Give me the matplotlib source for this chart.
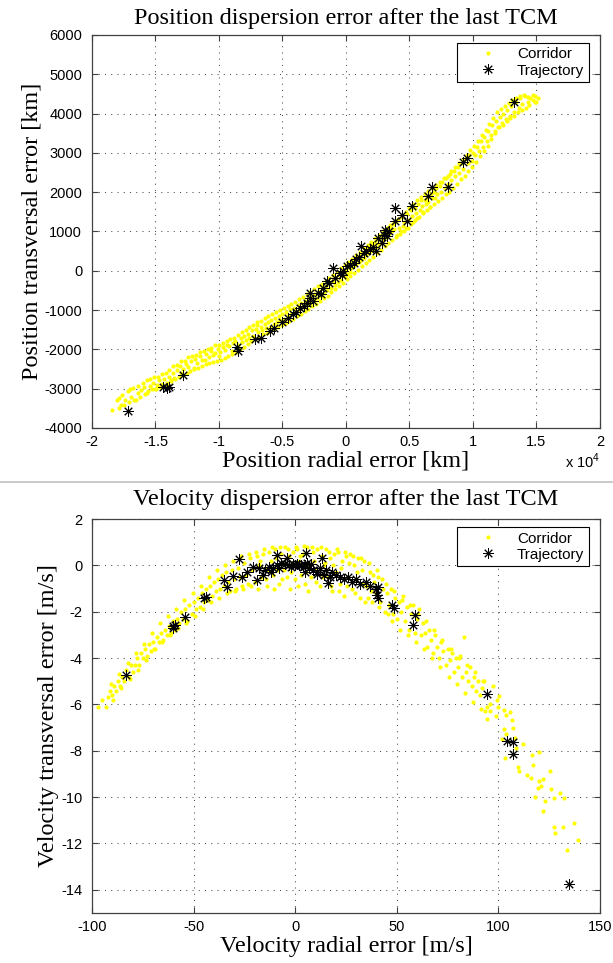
import numpy as np
import matplotlib
matplotlib.use("Agg")
import matplotlib.pyplot as plt
from matplotlib.lines import Line2D
from matplotlib.ticker import FuncFormatter, MultipleLocator

plt.rcParams['font.family'] = ['Liberation Sans', 'DejaVu Sans']
plt.rcParams['axes.unicode_minus'] = False
plt.rcParams['mathtext.fontset'] = 'custom'
plt.rcParams['mathtext.rm'] = 'Liberation Sans'

# --- position dispersion (radial km, transversal km) ---
pos_corridor = np.array([
    (-18400, -3550), (-17900, -3230), (-17700, -3420), (-17400, -3300), (-17000, -3020),
    (-16900, -3200), (-16500, -3290), (-16400, -3120), (-16100, -3030), (-15900, -2960),
    (-15700, -3100), (-15400, -2930), (-15200, -2850), (-15000, -3000), (-14900, -2900),
    (-14700, -2780), (-14500, -2880), (-14300, -2760), (-14100, -2850), (-13900, -2700),
    (-13800, -2790), (-13600, -2600), (-13500, -2720), (-13300, -2520), (-13100, -2420),
    (-13000, -2600), (-12800, -2500), (-12600, -2380), (-12400, -2450), (-12200, -2300),
    (-12000, -2480), (-11900, -2250), (-11700, -2350), (-11500, -2180), (-11300, -2280),
    (-11100, -2260), (-11000, -2120), (-10800, -2200), (-10600, -2050), (-10500, -2150),
    (-10300, -2090), (-10100, -1980), (-10000, -2180), (-9900, -2060), (-9700, -1950),
    (-9500, -2010), (-9400, -1880), (-9200, -1920), (-9000, -2050), (-8900, -1850),
    (-8700, -1780), (-8500, -1900), (-8300, -1700), (-8200, -1820), (-8000, -1650),
    (-7900, -1760), (-7700, -1600), (-7600, -1700), (-7400, -1520), (-7300, -1650),
    (-7100, -1480), (-7000, -1380), (-6900, -1560), (-6700, -1420), (-6600, -1500),
    (-6400, -1350), (-6300, -1450), (-6100, -1300), (-6000, -1420), (-5900, -1250),
    (-5700, -1350), (-5600, -1200), (-5400, -1300), (-5300, -1150), (-5200, -1260),
    (-5000, -1100), (-4900, -1220), (-4700, -1050), (-4600, -1150), (-4400, -980),
    (-4300, -1100), (-4100, -950), (-4000, -1060), (-3800, -880), (-3700, -990),
    (-3500, -820), (-3400, -930), (-3200, -760), (-3100, -870), (-2900, -700),
    (-2800, -820), (-2700, -640), (-2500, -750), (-2400, -580), (-2300, -690),
    (-2100, -520), (-2000, -630), (-1900, -450), (-1700, -560), (-1600, -380),
    (-1500, -490), (-1300, -320), (-1200, -430), (-1000, -250), (-900, -360),
    (-800, -180), (-600, -290), (-500, -120), (-400, -230), (-200, -40),
    (-100, -160), (0, 30), (100, -80), (200, 100), (300, -20),
    (400, 80), (500, 200), (600, 120), (700, 250), (800, 180),
    (900, 330), (1000, 220), (1100, 380), (1200, 280), (1300, 450),
    (1400, 330), (1500, 500), (1600, 400), (1700, 560), (1800, 450),
    (1900, 620), (2000, 500), (2100, 680), (2200, 560), (2300, 740),
    (2400, 600), (2500, 800), (2600, 680), (2700, 860), (2800, 720),
    (2900, 920), (3000, 800), (3100, 980), (3200, 870), (3300, 1050),
    (3400, 930), (3500, 1120), (3600, 1000), (3700, 1180), (3800, 1050),
    (3900, 1250), (4000, 900), (4100, 1300), (4200, 1100), (4300, 1000),
    (4400, 1380), (4500, 1150), (4600, 1250), (4700, 1080), (4800, 1450),
    (5000, 1300), (5100, 1550), (5200, 1400), (5300, 1250), (5400, 1600),
    (5500, 1480), (5600, 1350), (5700, 1700), (5800, 1550), (5900, 1800),
    (6000, 1650), (6100, 1500), (6200, 1800), (6300, 1700), (6400, 1850),
    (6500, 1750), (6600, 1620), (6700, 1950), (6800, 1850), (6900, 2000),
    (7000, 1850), (7100, 2100), (7200, 1950), (7400, 2150), (7500, 2000),
    (7600, 2250), (7800, 2100), (7900, 2350), (8000, 2200), (8200, 2450),
    (8300, 2300), (8500, 2550), (8600, 2400), (8800, 2650), (8900, 2500),
    (9100, 2750), (9200, 2600), (9400, 2850), (9600, 2730), (9700, 2950),
    (9900, 2800), (10000, 3000), (10200, 2950), (10300, 3150), (10500, 3050),
    (10600, 3300), (10800, 3150), (10900, 3400), (11100, 3300), (11200, 3550),
    (11400, 3450), (11500, 3700), (11700, 3550), (11800, 3800), (12000, 3650),
    (12100, 3900), (12300, 3750), (12400, 4000), (12600, 3850), (12700, 4100),
    (12900, 3950), (13000, 4200), (13200, 4050), (13400, 4300), (13600, 4150),
    (13700, 4400), (13900, 4250), (14100, 4450), (14300, 4300), (14500, 4400),
    (14700, 4350), (14900, 4450), (15000, 4300),
    # outer edges of the corridor
    (-18000, -3300), (-17850, -3500), (-17600, -3150), (-17450, -3420), (-17200, -3060),
    (-17050, -3330), (-16800, -2990), (-16650, -3290), (-16400, -2930), (-16250, -3200),
    (-16000, -2850), (-15850, -3130), (-15700, -2790), (-15550, -3070), (-15400, -2760),
    (-15250, -3020), (-15100, -2700), (-14950, -3010), (-14800, -2700), (-14650, -2950),
    (-14500, -2620), (-14350, -2930), (-14200, -2590), (-14050, -2900), (-13900, -2520),
    (-13750, -2810), (-13600, -2420), (-13450, -2760), (-13300, -2400), (-13150, -2700),
    (-13000, -2300), (-12850, -2640), (-12700, -2290), (-12550, -2600), (-12400, -2200),
    (-12250, -2560), (-12100, -2180), (-11950, -2500), (-11800, -2150), (-11650, -2470),
    (-11500, -2060), (-11350, -2430), (-11200, -2050), (-11050, -2380), (-10900, -1990),
    (-10750, -2350), (-10600, -1960), (-10450, -2330), (-10300, -1900), (-10150, -2300),
    (-10000, -1880), (-9850, -2260), (-9700, -1850), (-9550, -2210), (-9400, -1800),
    (-9250, -2170), (-9100, -1740), (-8950, -2130), (-8800, -1700), (-8650, -2070),
    (-8500, -1640), (-8350, -2000), (-8200, -1560), (-8050, -1930), (-7900, -1500),
    (-7750, -1860), (-7600, -1440), (-7450, -1800), (-7300, -1370), (-7150, -1730),
    (-7000, -1300), (-6850, -1680), (-6700, -1270), (-6550, -1620), (-6400, -1210),
    (-6250, -1580), (-6100, -1160), (-5950, -1540), (-5800, -1110), (-5650, -1480),
    (-5500, -1060), (-5350, -1430), (-5200, -1000), (-5050, -1390), (-4900, -960),
    (-4750, -1330), (-4600, -900), (-4450, -1270), (-4300, -840), (-4150, -1220),
    (-4000, -790), (-3850, -1160), (-3700, -720), (-3550, -1090), (-3400, -660),
    (-3250, -1030), (-3100, -600), (-2950, -970), (-2800, -530), (-2650, -900),
    (-2500, -470), (-2350, -840), (-2200, -400), (-2050, -770), (-1900, -330),
    (-1750, -700), (-1600, -260), (-1450, -630), (-1300, -180), (-1150, -550),
    (-1000, -100), (-850, -470), (-700, -20), (-550, -390), (-400, 60),
    (-250, -300), (-100, 140), (50, -220), (200, 230), (350, -140),
    (500, 310), (650, -60), (800, 400), (950, 30), (1100, 490),
    (1250, 110), (1400, 570), (1550, 190), (1700, 650), (1850, 280),
    (2000, 740), (2150, 360), (2300, 830), (2450, 450), (2600, 920),
    (2750, 530), (2900, 1000), (3050, 620), (3200, 1080), (3350, 700),
    (3500, 1160), (3650, 770), (3800, 1240), (3950, 850), (4100, 1320),
    (4250, 930), (4400, 1410), (4550, 1020), (4700, 1500), (4850, 1100),
    (5000, 1590), (5150, 1180), (5300, 1690), (5450, 1280), (5600, 1790),
    (5750, 1380), (5900, 1880), (6050, 1470), (6200, 1960), (6350, 1540),
    (6500, 2040), (6650, 1620), (6800, 2110), (6950, 1700), (7100, 2190),
    (7250, 1780), (7400, 2270), (7550, 1860), (7700, 2350), (7850, 1950),
    (8000, 2420), (8150, 2010), (8300, 2530), (8450, 2110), (8600, 2640),
    (8750, 2220), (8900, 2740), (9050, 2330), (9200, 2850), (9350, 2420),
    (9500, 2950), (9650, 2530), (9800, 3060), (9950, 2640), (10100, 3180),
    (10250, 2780), (10400, 3310), (10550, 2910), (10700, 3450), (10850, 3050),
    (11000, 3580), (11150, 3180), (11300, 3740), (11450, 3340), (11600, 3890),
    (11750, 3500), (11900, 4030), (12050, 3650), (12200, 4120), (12350, 3720),
    (12500, 4200), (12650, 3800), (12800, 4270), (12950, 3880), (13100, 4350),
    (13250, 3950), (13400, 4400), (13550, 4030), (13700, 4450), (13850, 4100),
    (14000, 4480), (14150, 4150), (14300, 4420), (14450, 4230), (14700, 4470),
    (14850, 4300), (15100, 4400),
])

pos_traj = np.array([
    (-17200, -3570), (-14400, -2970), (-14100, -2990), (-13900, -2950), (-12800, -2650),
    (-8600, -1930), (-8500, -2050), (-7200, -1740), (-6700, -1700), (-6000, -1530),
    (-5700, -1450), (-5000, -1300), (-4600, -1200), (-4200, -1100), (-3900, -1050),
    (-3600, -950), (-3300, -900), (-3100, -820), (-2800, -700), (-2600, -760),
    (-2200, -567), (-2800, -567), (-2000, -600), (-1800, -450), (-1500, -272),
    (-1300, -300), (-900, -178), (-1000, 69), (-500, -59), (-300, -100),
    (-200, -10), (50, 109), (300, 150), (600, 196), (800, 300),
    (1000, 350), (1200, 618), (1400, 450), (1600, 491), (1900, 550),
    (2100, 600), (2400, 491), (2500, 832), (2800, 700), (3000, 900),
    (3100, 1043), (3200, 873), (3400, 1000), (3900, 1272), (3900, 1595),
    (4400, 1410), (4800, 1272), (5200, 1654), (6500, 1890), (6750, 2130),
    (8000, 2130), (9200, 2780), (9500, 2868), (13200, 4300),
])

# --- velocity dispersion (radial m/s, transversal m/s) ---
vel_corridor = np.array([
    (-97, -6.1), (-93, -6.1), (-95, -5.8), (-92, -5.7), (-91, -5.4), (-90, -5.6),
    (-89, -5.2), (-88, -5.4), (-87, -5.0), (-86, -5.2), (-85, -4.8), (-84, -5.0),
    (-83, -4.5), (-82, -4.8), (-81, -4.3), (-80, -4.6), (-79, -4.3), (-78, -4.0),
    (-77, -4.3), (-76, -3.8), (-75, -4.0), (-74, -3.6), (-73, -3.9), (-72, -3.4),
    (-71, -3.7), (-70, -3.3), (-69, -3.6), (-68, -3.1), (-67, -3.3), (-66, -2.9),
    (-65, -3.2), (-64, -2.8), (-63, -3.0), (-62, -2.6), (-61, -2.9), (-60, -2.4),
    (-59, -2.8), (-58, -2.3), (-57, -2.5), (-56, -2.0), (-55, -2.3), (-54, -1.9),
    (-53, -2.4), (-52, -1.7), (-51, -2.1), (-50, -1.6), (-49, -1.9), (-48, -1.4),
    (-47, -1.8), (-46, -1.2), (-45, -1.6), (-44, -1.0), (-43, -1.5), (-42, -0.9),
    (-41, -1.3), (-40, -0.7), (-39, -1.1), (-38, -0.6), (-37, -1.0), (-36, -0.4),
    (-35, -0.9), (-34, -0.3), (-33, -0.7), (-32, -1.1), (-31, -0.2), (-30, -0.6),
    (-29, -1.0), (-28, -0.1), (-27, -0.5), (-26, -0.9), (-25, 0.1), (-24, -0.4),
    (-23, -0.8), (-22, 0.3), (-21, -0.2), (-20, -0.7), (-19, 0.4), (-18, 0.0),
    (-17, -0.5), (-16, 0.5), (-15, -0.1), (-14, -0.9), (-13, 0.6), (-12, 0.2),
    (-11, -0.4), (-10, 0.7), (-9, -0.2), (-8, -0.8), (-7, 0.5), (-6, 0.1),
    (-5, 0.8), (-4, -0.5), (-3, 0.4), (-2, -0.3), (-1, 0.6), (0, -0.6),
    (1, 0.7), (2, 0.2), (3, -0.4), (4, 0.5), (5, -0.8), (6, 0.8),
    (7, 0.0), (8, -0.5), (9, 0.6), (10, -0.2), (11, 0.7), (12, -0.9),
    (13, 0.4), (14, 0.0), (15, 0.7), (16, -0.5), (17, 0.3), (18, -1.1),
    (19, 0.5), (20, -0.3), (21, 0.6), (22, -0.8), (23, 0.2), (24, -1.3),
    (25, 0.4), (26, -0.5), (27, 0.5), (28, -1.0), (29, 0.0), (30, -0.6),
    (31, 0.3), (32, -1.4), (33, -0.2), (34, 0.2), (35, -0.9), (36, -1.4),
    (37, -0.3), (38, -1.6), (39, -0.7), (40, -1.2), (41, -0.5), (42, -1.6),
    (43, -1.0), (44, -2.0), (45, -1.2), (46, -1.7), (47, -1.0), (48, -2.1),
    (49, -1.4), (50, -2.3), (51, -1.6), (52, -2.0), (53, -1.3), (54, -2.4),
    (55, -1.8), (56, -2.8), (57, -2.1), (58, -1.7), (59, -2.9), (60, -2.3),
    (61, -1.9), (62, -3.0), (63, -2.5), (64, -2.9), (65, -3.5), (66, -2.8),
    (67, -3.2), (68, -3.8), (69, -3.0), (70, -3.5), (71, -4.0), (72, -3.3),
    (73, -3.7), (74, -4.3), (75, -3.6), (76, -4.1), (77, -3.8), (78, -4.6),
    (79, -4.0), (80, -4.4), (81, -3.9), (82, -4.8), (83, -3.1), (84, -4.6),
    (85, -5.0), (86, -4.4), (87, -5.2), (88, -4.8), (89, -5.4), (90, -5.0),
    (91, -5.6), (92, -5.3), (93, -5.0), (97.5, -5.2), (100.4, -5.65), (99.2, -5.8),
    (95.9, -6.0), (94.2, -6.1), (100, -6.1), (93.4, -6.3), (95.9, -6.28), (102.8, -6.22),
    (105.7, -6.32), (103.7, -6.44), (98.8, -6.5), (94.5, -6.64), (106.9, -6.65), (102.8, -7.04),
    (107.4, -7.01), (103.7, -7.26), (102, -7.47), (108.2, -7.43), (112.3, -7.69), (108.7, -7.9),
    (120.1, -8.06), (116.4, -8.2), (103.5, -8.31), (116.9, -8.6), (125.4, -8.86), (109.8, -8.7),
    (110.3, -8.86), (113.9, -9.03), (116, -9.17), (120.1, -9.32), (121.8, -9.23), (120.9, -9.5),
    (119.7, -9.59), (125.7, -9.65), (130.5, -9.81), (118.1, -10.0), (127.4, -10.02), (132.5, -10.05),
    (122.9, -10.17), (121.9, -10.58), (137, -11.1), (127.2, -11.3), (131.6, -11.3), (127.7, -11.53),
    (139, -11.84), (134, -12.3),
    # outer edges of the corridor
    (-90.5, -5.1), (-89.5, -5.8), (-86.5, -4.7), (-85.5, -5.3), (-82.5, -4.2), (-81.5, -4.9),
    (-78.5, -3.8), (-77.5, -4.5), (-74.5, -3.4), (-73.5, -4.1), (-70.5, -2.9), (-69.5, -3.6),
    (-66.5, -2.5), (-65.5, -3.3), (-62.5, -2.2), (-61.5, -3.0), (-58.5, -1.9), (-57.5, -2.7),
    (-54.5, -1.5), (-53.5, -2.5), (-50.5, -1.2), (-49.5, -2.2), (-46.5, -0.9), (-45.5, -1.9),
    (-42.5, -0.5), (-41.5, -1.6), (-38.5, -0.2), (-37.5, -1.4), (-34.5, 0.0), (-33.5, -1.2),
    (-30.5, 0.2), (-29.5, -1.1), (-26.5, 0.4), (-25.5, -1.0), (-22.5, 0.5), (-21.5, -0.9),
    (-19.5, 0.6), (-18.5, -1.0), (-17.5, 0.2), (-15.5, 0.7), (-14.5, -0.6), (-13.5, -0.2),
    (-11.5, 0.8), (-10.5, -1.0), (-9.5, 0.3), (-7.5, 0.8), (-6.5, -0.6), (-5.5, -0.2),
    (-3.5, 0.7), (-2.5, -1.0), (-1.5, 0.1), (0.5, 0.8), (1.5, -0.9), (2.5, 0.4),
    (4.5, 0.85), (5.5, -0.3), (6.5, -1.1), (8.5, 0.8), (9.5, 0.2), (10.5, -0.7),
    (12.5, 0.8), (13.5, -0.5), (14.5, 0.1), (16.5, 0.6), (17.5, -0.9), (18.5, 0.0),
    (20.5, 0.7), (21.5, -1.1), (22.5, -0.1), (24.5, 0.6), (25.5, -0.9), (26.5, 0.1),
    (28.5, 0.4), (29.5, -1.2), (30.5, -0.3), (32.5, 0.3), (33.5, -0.8), (34.5, -1.6),
    (36.5, 0.1), (37.5, -1.1), (38.5, -0.4), (40.5, -0.2), (41.5, -1.8), (42.5, -0.6),
    (44.5, -0.8), (45.5, -2.1), (48.5, -1.1), (47.5, -2.4), (52.5, -1.5), (51.5, -2.8),
    (56.5, -1.7), (55.5, -3.0), (60.5, -2.1), (59.5, -3.3), (64.5, -2.4), (63.5, -3.6),
    (68.5, -2.8), (67.5, -4.0), (72.5, -3.2), (71.5, -4.4), (76.5, -3.6), (75.5, -4.8),
    (80.5, -4.0), (79.5, -5.1), (84.5, -4.3), (83.5, -5.5), (88.5, -4.6), (87.5, -5.9),
    (92.5, -5.0), (91.5, -6.2),
])

vel_traj = np.array([
    (-83, -4.75), (-60, -2.7), (-59, -2.55), (-60, -2.6), (-54, -2.22), (-45, -1.4),
    (-44, -1.38), (-35, -0.63), (-33.5, -0.95), (-27.7, 0.27), (-30.5, -0.46), (-26.3, -0.49),
    (-23.9, -0.27), (-20.6, -0.06), (-19, -0.63), (-18, -0.1), (-16, -0.4), (-15, -0.2),
    (-13, -0.05), (-12, -0.3), (-10.8, -0.13), (-9.1, 0.45), (-9, 0.0), (-8, -0.1),
    (-7, 0.1), (-5, 0.05), (-4, 0.3), (-3, 0.0), (-2, -0.05), (-1, 0.05),
    (0, 0.0), (1, 0.05), (2, 0.0), (3, 0.02), (4, -0.05), (5, 0.0),
    (5.3, 0.52), (4.8, -0.27), (6, 0.1), (7, -0.1), (8, 0.05), (9, -0.2),
    (10.6, -0.35), (11, -0.3), (12, -0.1), (13, 0.3), (14, -0.4), (15, -0.2),
    (16.3, -0.78), (17, -0.5), (18, -0.3), (20, -0.4), (22, -0.5), (24, -0.6),
    (26, -0.5), (28, -0.7), (30, -0.6), (32, -0.8), (35, -0.7), (37, -0.9),
    (40, -1.0), (40.9, -0.92), (40.1, -1.28), (41, -1.4), (47.5, -1.71), (48.5, -1.85),
    (58.9, -2.15), (58.1, -2.58), (94.5, -5.57), (104.4, -7.58), (107.4, -7.62), (107.4, -8.15),
    (135, -13.75),
])

pos_xlim = (-20000, 20000)
pos_ylim = (-4000, 6000)
vel_xlim = (-100, 150)
vel_ylim = (-15, 2)

serif = ['Liberation Serif', 'DejaVu Serif']
star = (8, 2, 0)  # matlab-ish '*' marker


def style(ax):
    ax.grid(True, color='0.3', linestyle=(0, (1, 5)), linewidth=0.75)
    ax.set_axisbelow(False)
    for s in ax.spines.values():
        s.set_color('0.25')
        s.set_linewidth(0.9)
    ax.tick_params(direction='in', top=True, right=True, length=4, width=0.8,
                   color='0.25', labelsize=10.5)
    ax.tick_params(axis='x', pad=5)
    ax.tick_params(axis='y', pad=7)


def draw(ax, cor, traj):
    ax.plot(cor[:, 0], cor[:, 1], 'o', color='#ffff00', ms=3.0, mec='none',
            label='Corridor', zorder=3)
    ax.plot(traj[:, 0], traj[:, 1], linestyle='none', marker=star, color='black',
            ms=7.5, mew=0.7, label='Trajectory', zorder=4)
    leg = ax.legend(loc='upper right', bbox_to_anchor=(0.978, 0.98), borderaxespad=0,
                    fontsize=11, fancybox=False, framealpha=1, edgecolor='black',
                    borderpad=0.3, labelspacing=0.15, handlelength=3.4,
                    handletextpad=0.2, numpoints=1)
    leg.get_frame().set_linewidth(0.8)


fig = plt.figure(figsize=(6.13, 9.63), dpi=100)

ax1 = fig.add_axes([0.150, 0.5556, 0.8287, 0.4081])
draw(ax1, pos_corridor, pos_traj)
ax1.set_xlim(*pos_xlim)
ax1.set_ylim(*pos_ylim)
ax1.xaxis.set_major_locator(MultipleLocator(5000))
ax1.yaxis.set_major_locator(MultipleLocator(1000))
ax1.xaxis.set_major_formatter(FuncFormatter(lambda v, p: '%g' % (v / 1e4)))
style(ax1)
ax1.set_title('Position dispersion error after the last TCM', family=serif, fontsize=17.5, pad=8)
ax1.set_xlabel('Position radial error [km]', family=serif, fontsize=17.5, labelpad=1.5)
ax1.set_ylabel('Position transversal error [km]', family=serif, fontsize=17.5, labelpad=1.5)
fig.text(600 / 613, 1 - 468 / 963, r'x 10$^{4}$', ha='right', va='baseline', fontsize=10.5)

ax2 = fig.add_axes([0.150, 0.0519, 0.8287, 0.4091])
draw(ax2, vel_corridor, vel_traj)
ax2.set_xlim(*vel_xlim)
ax2.set_ylim(*vel_ylim)
ax2.xaxis.set_major_locator(MultipleLocator(50))
ax2.set_yticks(np.arange(-14, 3, 2))
style(ax2)
ax2.set_title('Velocity dispersion error after the last TCM', family=serif, fontsize=17.5, pad=10)
ax2.set_xlabel('Velocity radial error [m/s]', family=serif, fontsize=17.5, labelpad=1.5)
ax2.set_ylabel('Velocity transversal error [m/s]', family=serif, fontsize=17.5, labelpad=1.5)

# grey divider between the two panels
fig.add_artist(Line2D([0, 1], [1 - 482 / 963] * 2, color='#c0c0c0', linewidth=1.2))

fig.savefig('out.png', dpi=100)
